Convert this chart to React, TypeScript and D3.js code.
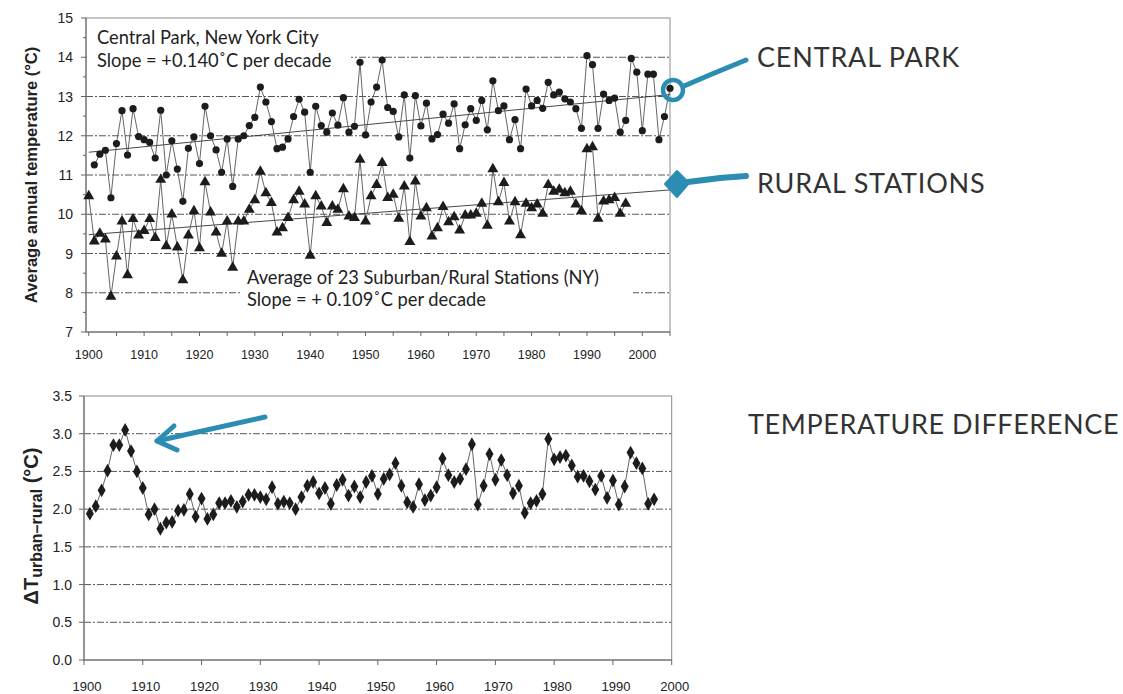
import React from "react";
import * as d3 from "d3";

// ---------- DATA ----------
const cpStartYear = 1901;
const centralPark = [
  11.26, 11.53, 11.63, 10.42, 11.8, 12.64, 11.51, 12.69, 11.98, 11.9,
  11.83, 11.43, 12.65, 11.0, 11.87, 11.15, 10.33, 11.68, 11.97, 11.29,
  12.75, 12.0, 11.64, 11.07, 11.92, 10.71, 11.92, 12.0, 12.26, 12.47,
  13.24, 12.86, 12.36, 11.67, 11.71, 11.92, 12.49, 12.93, 12.6, 11.07,
  12.75, 12.26, 12.09, 12.58, 12.27, 12.97, 12.09, 12.24, 13.87, 12.02,
  12.86, 13.24, 13.93, 12.72, 12.62, 11.97, 13.04, 11.43, 13.02, 12.25,
  12.83, 11.92, 12.03, 12.55, 12.32, 12.81, 11.67, 12.28, 12.69, 12.39,
  12.9, 12.15, 13.4, 12.64, 12.76, 11.9, 12.41, 11.67, 13.19, 12.76,
  12.9, 12.7, 13.36, 13.04, 13.11, 12.94, 12.86, 12.69, 12.19, 14.04,
  13.81, 12.19, 13.06, 12.9, 12.96, 12.09, 12.39, 13.97, 13.62, 12.13,
  13.57, 13.57, 11.9, 12.49, 13.21,
];

const ruralStartYear = 1900;
const rural = [
  10.46, 9.31, 9.51, 9.36, 7.9, 8.93, 9.82, 8.45, 9.88, 9.46,
  9.58, 9.88, 9.4, 10.88, 9.19, 10.0, 9.16, 8.32, 9.46, 10.08,
  9.14, 10.82, 10.05, 9.54, 9.0, 9.82, 8.64, 9.82, 9.82, 10.12,
  10.36, 11.09, 10.54, 10.29, 9.54, 9.65, 9.91, 10.36, 10.58, 10.25,
  8.95, 10.46, 10.2, 9.78, 10.2, 10.12, 10.64, 9.95, 9.91, 11.39,
  9.82, 10.46, 10.75, 11.31, 10.42, 10.5, 9.89, 10.71, 9.3, 10.84,
  9.95, 10.16, 9.44, 9.65, 10.19, 9.8, 9.93, 9.59, 9.97, 9.97,
  10.02, 10.27, 9.71, 11.15, 10.31, 10.8, 9.82, 10.31, 9.47, 10.27,
  10.16, 10.25, 10.02, 10.75, 10.58, 10.63, 10.54, 10.58, 10.25, 10.08,
  11.66, 11.71, 9.89, 10.33, 10.36, 10.42, 10.02, 10.27,
];

const cpTrend: [number, number][] = [[1900, 11.58], [2005, 13.05]];
const ruralTrend: [number, number][] = [[1900, 9.48], [2005, 10.62]];

const diffStartYear = 1901;
const tempDiff = [
  1.94, 2.04, 2.25, 2.51, 2.85, 2.85, 3.05, 2.77, 2.5, 2.28,
  1.93, 2.0, 1.74, 1.82, 1.83, 1.98, 1.99, 2.2, 1.9, 2.14,
  1.87, 1.93, 2.08, 2.08, 2.11, 2.03, 2.1, 2.19, 2.19, 2.16,
  2.13, 2.29, 2.07, 2.1, 2.08, 2.0, 2.16, 2.31, 2.36, 2.21,
  2.28, 2.07, 2.32, 2.39, 2.18, 2.3, 2.16, 2.36, 2.44, 2.2,
  2.4, 2.46, 2.61, 2.31, 2.09, 2.03, 2.33, 2.12, 2.18, 2.29,
  2.67, 2.45, 2.36, 2.4, 2.53, 2.86, 2.06, 2.31, 2.73, 2.39,
  2.65, 2.45, 2.21, 2.31, 1.95, 2.08, 2.11, 2.2, 2.93, 2.66,
  2.69, 2.71, 2.58, 2.43, 2.44, 2.37, 2.26, 2.44, 2.15, 2.38,
  2.06, 2.3, 2.75, 2.61, 2.54, 2.07, 2.13,
];

const topYTicks = [7, 8, 9, 10, 11, 12, 13, 14, 15];
const topXLabels = [1900, 1910, 1920, 1930, 1940, 1950, 1960, 1970, 1980, 1990, 2000];
const botYTicks = [0, 0.5, 1.0, 1.5, 2.0, 2.5, 3.0, 3.5];
const botXLabels = [1900, 1910, 1920, 1930, 1940, 1950, 1960, 1970, 1980, 1990, 2000];

// ---------- STYLE ----------
const TEAL = "#2c8db2";
const INK = "#1c1c1c";
const AXIS = "#8a8a8a";
const GRID_DASH = "7 2 2 2";
const ARIAL = "'Liberation Sans', Arial, sans-serif";
const GILL = "Lato, 'Open Sans', sans-serif";

export default function App() {
  const xT = d3.scaleLinear().domain([1899.5, 2005]).range([86, 670]);
  const yT = d3.scaleLinear().domain([7, 15]).range([332, 18]);
  const xB = d3.scaleLinear().domain([1900, 2000]).range([84, 671.7]);
  const yB = d3.scaleLinear().domain([0, 3.5]).range([660, 396]);

  const cpPts = centralPark.map((v, i) => [cpStartYear + i, v] as [number, number]);
  const ruPts = rural.map((v, i) => [ruralStartYear + i, v] as [number, number]);
  const dfPts = tempDiff.map((v, i) => [diffStartYear + i, v] as [number, number]);

  const lineT = d3.line<[number, number]>().x((d) => xT(d[0])).y((d) => yT(d[1]));
  const lineB = d3.line<[number, number]>().x((d) => xB(d[0])).y((d) => yB(d[1]));

  const tri = d3.symbol(d3.symbolTriangle, 52)() as string;
  const dia = d3.symbol(d3.symbolDiamond, 55)() as string;

  const topMinorY = d3.range(7, 15.01, 0.5);
  const topXTicks = d3.range(1900, 2005.01, 5);

  const [x0T, x1T] = xT.range();
  const [x0B, x1B] = xB.range();

  return (
    <svg width={1123} height={694} viewBox="0 0 1123 694" style={{ display: "block", position: "absolute", left: 0, top: 0, background: "#fff" }}>
      <rect x={0} y={0} width={1123} height={694} fill="#fff" />

      {/* ================= TOP CHART ================= */}
      {[8, 9, 10, 11, 12, 13, 14].map((v) => (
        <line key={"tg" + v} x1={x0T} x2={x1T} y1={yT(v)} y2={yT(v)} stroke="#444" strokeWidth={0.9} strokeDasharray={GRID_DASH} />
      ))}
      <rect x={x0T + 1} y={24} width={264} height={50} fill="#fff" />
      <rect x={240} y={262} width={393} height={50} fill="#fff" />

      <rect x={x0T} y={yT(15)} width={x1T - x0T} height={yT(7) - yT(15)} fill="none" stroke={AXIS} strokeWidth={1} />
      <line x1={x0T} x2={x0T} y1={yT(15)} y2={yT(7)} stroke="#666" strokeWidth={1} />
      <line x1={x0T} x2={x1T} y1={yT(7)} y2={yT(7)} stroke="#666" strokeWidth={1} />

      {topMinorY.map((v) => (
        <line key={"tyt" + v} x1={x0T - (Number.isInteger(v) ? 5 : 3)} x2={x0T} y1={yT(v)} y2={yT(v)} stroke="#666" strokeWidth={1} />
      ))}
      {topYTicks.map((v) => (
        <text key={"tyl" + v} x={x0T - 13} y={yT(v)} dy="0.36em" textAnchor="end" fontFamily={ARIAL} fontSize={14} fill="#222">
          {v}
        </text>
      ))}
      {topXTicks.map((yr) => (
        <line key={"txt" + yr} x1={xT(yr)} x2={xT(yr)} y1={yT(7)} y2={yT(7) + 4} stroke="#666" strokeWidth={1} />
      ))}
      {topXLabels.map((yr) => (
        <text key={"txl" + yr} x={xT(yr)} y={359} textAnchor="middle" fontFamily={ARIAL} fontSize={12.5} fill="#222">
          {yr}
        </text>
      ))}
      <text transform={`translate(37,${(yT(15) + yT(7)) / 2}) rotate(-90)`} textAnchor="middle" fontFamily={ARIAL} fontWeight="bold" fontSize={16.5} fill="#222">
        Average annual temperature (°C)
      </text>

      <path d={lineT(cpTrend) as string} fill="none" stroke="#333" strokeWidth={0.9} />
      <path d={lineT(ruralTrend) as string} fill="none" stroke="#333" strokeWidth={0.9} />

      <path d={lineT(cpPts) as string} fill="none" stroke="#555" strokeWidth={0.9} />
      <path d={lineT(ruPts) as string} fill="none" stroke="#555" strokeWidth={0.9} />
      {cpPts.map((d) => (
        <circle key={"cp" + d[0]} cx={xT(d[0])} cy={yT(d[1])} r={3.6} fill={INK} />
      ))}
      {ruPts.map((d) => (
        <path key={"ru" + d[0]} d={tri} transform={`translate(${xT(d[0])},${yT(d[1])})`} fill={INK} />
      ))}

      <text x={97} y={44} fontFamily={GILL} fontSize={18.3} fill="#222">Central Park, New York City</text>
      <text x={97} y={67} fontFamily={GILL} fontSize={18.3} fill="#222">Slope = +0.140˚C per decade</text>
      <text x={247} y={284} fontFamily={GILL} fontSize={18.3} fill="#222">Average of 23 Suburban/Rural Stations (NY)</text>
      <text x={247} y={306} fontFamily={GILL} fontSize={18.3} fill="#222">Slope = + 0.109˚C per decade</text>

      <path d="M684,86 L712,74 L746,60" fill="none" stroke={TEAL} strokeWidth={5} strokeLinecap="round" />
      <circle cx={673} cy={90} r={10} fill="none" stroke={TEAL} strokeWidth={4.5} />
      <path d="M688,182 L720,178 L746,176" fill="none" stroke={TEAL} strokeWidth={6} strokeLinecap="round" />
      <path d="M677,171 L689,183 L677,197 L665,184 Z" fill={TEAL} stroke={TEAL} strokeWidth={2} strokeLinejoin="round" />

      <text x={757} y={67} fontFamily={GILL} fontSize={27} letterSpacing={0.8} fill="#333">CENTRAL PARK</text>
      <text x={757} y={193} fontFamily={GILL} fontSize={27} letterSpacing={0.8} fill="#333">RURAL STATIONS</text>

      {/* ================= BOTTOM CHART ================= */}
      {[0.5, 1.0, 1.5, 2.0, 2.5, 3.0].map((v) => (
        <line key={"bg" + v} x1={x0B} x2={x1B} y1={yB(v)} y2={yB(v)} stroke="#444" strokeWidth={0.9} strokeDasharray={GRID_DASH} />
      ))}
      <rect x={x0B} y={yB(3.5)} width={x1B - x0B} height={yB(0) - yB(3.5)} fill="none" stroke={AXIS} strokeWidth={1} />
      <line x1={x0B} x2={x0B} y1={yB(3.5)} y2={yB(0)} stroke="#666" strokeWidth={1} />
      <line x1={x0B} x2={x1B} y1={yB(0)} y2={yB(0)} stroke="#666" strokeWidth={1} />
      {botYTicks.map((v) => (
        <g key={"byt" + v}>
          <line x1={x0B - 5} x2={x0B} y1={yB(v)} y2={yB(v)} stroke="#666" strokeWidth={1} />
          <text x={x0B - 12} y={yB(v)} dy="0.36em" textAnchor="end" fontFamily={ARIAL} fontSize={14} fill="#222">
            {v.toFixed(1)}
          </text>
        </g>
      ))}
      {botXLabels.map((yr) => (
        <g key={"bxt" + yr}>
          <line x1={xB(yr)} x2={xB(yr)} y1={yB(0)} y2={yB(0) + 5} stroke="#666" strokeWidth={1} />
          <text x={xB(yr) + 3} y={691} textAnchor="middle" fontFamily={ARIAL} fontSize={13} fill="#222">
            {yr}
          </text>
        </g>
      ))}
      <text transform={`translate(38,${(yB(3.5) + yB(0)) / 2 - 2}) rotate(-90)`} textAnchor="middle" fontFamily={ARIAL} fontWeight="bold" fill="#222">
        <tspan fontSize={20}>ΔT</tspan>
        <tspan fontSize={16} dy={4}>urban–rural</tspan>
        <tspan fontSize={20} dy={-4}> (°C)</tspan>
      </text>

      <path d={lineB(dfPts) as string} fill="none" stroke="#555" strokeWidth={0.9} />
      {dfPts.map((d) => (
        <path key={"df" + d[0]} d={dia} transform={`translate(${xB(d[0])},${yB(d[1])})`} fill={INK} />
      ))}

      <path d="M265,417 L157,441" fill="none" stroke={TEAL} strokeWidth={5} strokeLinecap="round" />
      <path d="M174,426 L157,441 L177,450" fill="none" stroke={TEAL} strokeWidth={5} strokeLinecap="round" strokeLinejoin="round" />

      <text x={748} y={434} fontFamily={GILL} fontSize={27} letterSpacing={0.6} fill="#333">TEMPERATURE DIFFERENCE</text>
    </svg>
  );
}
